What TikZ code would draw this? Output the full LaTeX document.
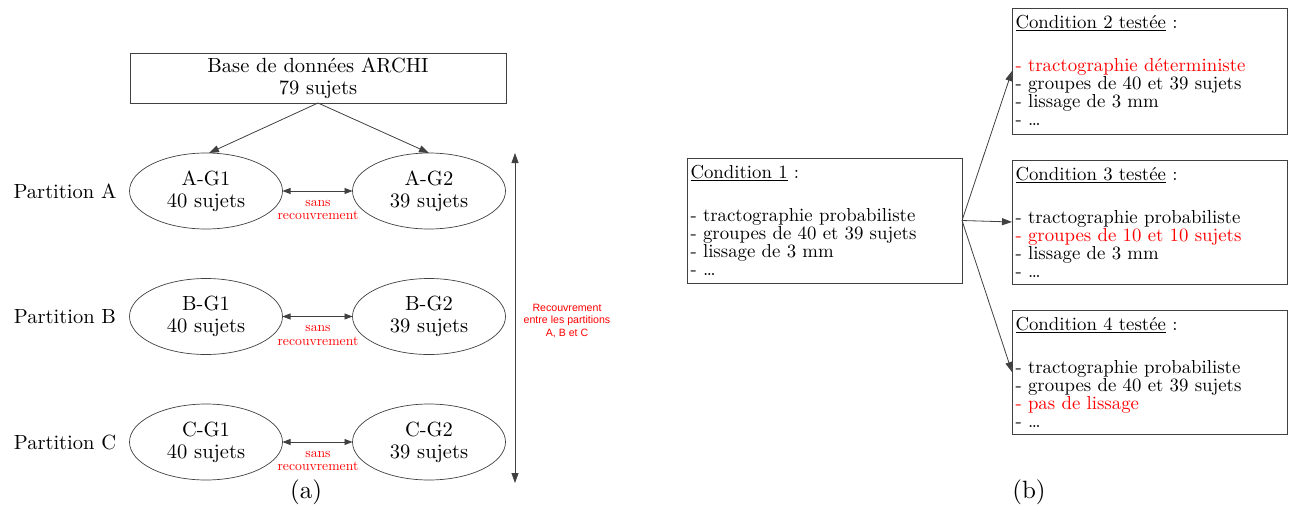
\documentclass[tikz,border=0pt]{standalone}
\usepackage{fontspec}
\setmainfont{lmroman10-regular.otf}[BoldFont=lmroman10-bold.otf, ItalicFont=lmroman10-italic.otf]
\newfontfamily\arialfont{Liberation Sans}
\usetikzlibrary{arrows.meta,shapes.geometric}
\newcommand\mfbig{\fontsize{20.5}{22}\selectfont}
\newcommand\mfcond{\fontsize{18.8}{18}\selectfont}
\newcommand\mfred{\fontsize{13.7}{13.5}\selectfont}
\newcommand\mfsans{\arialfont\fontsize{10.6}{12.5}\selectfont}
\newcommand\mfcap{\fontsize{25}{30}\selectfont}
\begin{document}
\begin{tikzpicture}[x=1pt,y=-1pt,
  every node/.style={inner sep=0pt, outer sep=0pt},
  line/.style={draw=black!75, line width=0.8pt},
  tip/.style={-{Triangle[length=10pt,width=7pt]}},
  dtip/.style={{Triangle[length=8pt,width=6pt]}-{Triangle[length=8pt,width=6pt]}},
  vtip/.style={{Triangle[length=10pt,width=7pt]}-{Triangle[length=10pt,width=7pt]}},
  basebox/.style={draw=black!75, line width=0.8pt, minimum width=376pt, minimum height=50pt, align=center, font=\mfbig},
  grp/.style={ellipse, draw=black!75, line width=0.7pt, minimum width=153pt, minimum height=76pt, align=center, font=\mfbig},
  partlab/.style={font=\mfbig},
  redlab/.style={font=\mfred, text=red, align=center},
  condbox/.style={draw=black!75, line width=0.8pt, minimum width=275pt},
  condtext/.style={font=\mfcond, align=left, anchor=north west},
  caplab/.style={font=\mfcap}
]
\useasboundingbox (0,0) rectangle (1293,511);

% ---- (a) ----
\node[basebox] (base) at (318,78) {Base de données ARCHI\\79 sujets};

\node[grp] (ag1) at (206,191) {A-G1\\40 sujets};
\node[grp] (ag2) at (429,191) {A-G2\\39 sujets};
\node[grp] (bg1) at (206,316.5) {B-G1\\40 sujets};
\node[grp] (bg2) at (429,316.5) {B-G2\\39 sujets};
\node[grp] (cg1) at (206,442) {C-G1\\40 sujets};
\node[grp] (cg2) at (429,442) {C-G2\\39 sujets};

\node[partlab] (pa) at (65,191) {Partition A};
\node[partlab] (pb) at (65,316.5) {Partition B};
\node[partlab] (pc) at (65,442) {Partition C};

\draw[line,tip] (base.south) -- ([xshift=3pt]ag1.north);
\draw[line,tip] (base.south) -- (ag2.north);

\draw[line,dtip] (ag1) -- (ag2);
\draw[line,dtip] (bg1) -- (bg2);
\draw[line,dtip] (cg1) -- (cg2);
\node[redlab] (sa) at (318,210) {sans\\recouvrement};
\node[redlab] (sb) at (318,335.5) {sans\\recouvrement};
\node[redlab] (sc) at (318,461) {sans\\recouvrement};

\coordinate (vt) at (515,153);
\coordinate (vb) at (515,483);
\draw[line,vtip] (vt) -- (vb);
\node[font=\mfsans, text=red, align=center] (rec) at (567,321) {Recouvrement\\entre les partitions\\A, B et C};

\node[caplab] (capa) at (306,492) {(a)};

% ---- (b) ----
\node[condbox, minimum height=125pt] (c1) at (824.5,220.5) {};
\node[condtext] (c1t) at ([xshift=3.5pt,yshift=-7pt]c1.north west)
  {\underline{Condition 1} :\\[25pt]- tractographie probabiliste\\- groupes de 40 et 39 sujets\\- lissage de 3 mm\\- \dots};

\node[condbox, minimum height=126pt] (c2) at (1149.5,71) {};
\node[condtext] (c2t) at ([xshift=3.5pt,yshift=-7pt]c2.north west)
  {\underline{Condition 2 testée} :\\[25pt]{\color{red}- tractographie déterministe}\\- groupes de 40 et 39 sujets\\- lissage de 3 mm\\- \dots};

\node[condbox, minimum height=124pt] (c3) at (1149.5,222) {};
\node[condtext] (c3t) at ([xshift=3.5pt,yshift=-7pt]c3.north west)
  {\underline{Condition 3 testée} :\\[25pt]- tractographie probabiliste\\{\color{red}- groupes de 10 et 10 sujets}\\- lissage de 3 mm\\- \dots};

\node[condbox, minimum height=124pt] (c4) at (1149.5,372) {};
\node[condtext] (c4t) at ([xshift=3.5pt,yshift=-7pt]c4.north west)
  {\underline{Condition 4 testée} :\\[25pt]- tractographie probabiliste\\- groupes de 40 et 39 sujets\\{\color{red}- pas de lissage}\\- \dots};

\draw[line,tip] (c1.east) -- (c2.west);
\draw[line,tip] (c1.east) -- (c3.west);
\draw[line,tip] (c1.east) -- (c4.west);

\node[caplab] (capb) at (1029,492) {(b)};
\end{tikzpicture}
\end{document}
